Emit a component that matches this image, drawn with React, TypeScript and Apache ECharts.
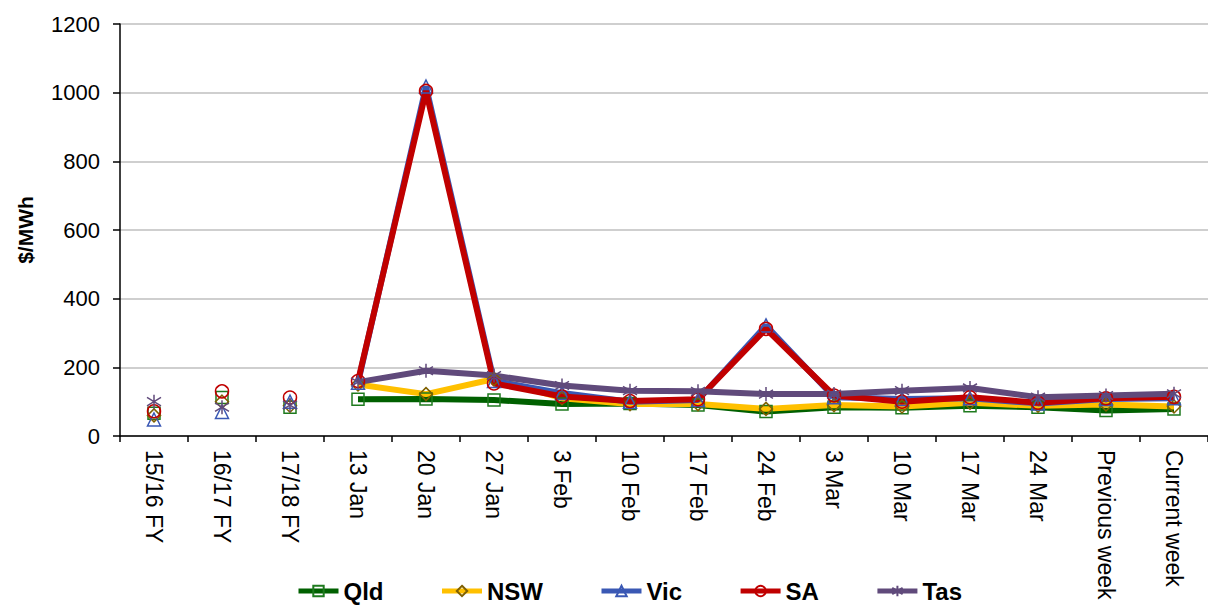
import React, { useEffect, useRef } from "react";
import * as echarts from "echarts";

const categories = [
  "15/16 FY", "16/17 FY", "17/18 FY", "13 Jan", "20 Jan", "27 Jan", "3 Feb", "10 Feb",
  "17 Feb", "24 Feb", "3 Mar", "10 Mar", "17 Mar", "24 Mar", "Previous week", "Current week",
];
const yTicks = { min: 0, max: 1200, interval: 200 };

const qld = [66, 112, 84, 107, 108, 105, 93, 95, 90, 71, 84, 82, 88, 84, 74, 79];
const nsw = [60, 100, 88, 150, 122, 166, 110, 93, 93, 79, 90, 86, 97, 88, 92, 86];
const vic = [48, 70, 100, 155, 1018, 160, 125, 100, 105, 322, 113, 108, 110, 95, 108, 110];
const sa = [72, 130, 112, 160, 1005, 153, 115, 102, 107, 312, 118, 100, 113, 97, 110, 114];
const tas = [100, 84, 90, 157, 190, 176, 147, 132, 130, 122, 122, 132, 140, 113, 118, 123];

const FY_COUNT = 3;

const STAR = "path://M5,0 L5,10 M0.7,2 L9.3,8 M9.3,2 L0.7,8";

type Def = { name: string; data: number[]; color: string; marker: string; border: string; size: number };
const defs: Def[] = [
  { name: "Qld", data: qld, color: "#006000", marker: "rect", border: "#1E7A1E", size: 12 },
  { name: "NSW", data: nsw, color: "#FFC000", marker: "diamond", border: "#7F6000", size: 13 },
  { name: "Vic", data: vic, color: "#3A58B4", marker: "triangle", border: "#3A58B4", size: 13 },
  { name: "SA", data: sa, color: "#C00000", marker: "circle", border: "#C00000", size: 13 },
  { name: "Tas", data: tas, color: "#604A7B", marker: STAR, border: "#604A7B", size: 14 },
];

export default function App() {
  const ref = useRef<HTMLDivElement>(null);
  useEffect(() => {
    if (!ref.current) return;
    const chart = echarts.init(ref.current, undefined, { renderer: "svg" });
    const font = "'Liberation Sans', Arial, sans-serif";
    const mainSeries = defs.map((d) => ({
      name: d.name,
      type: "line",
      data: d.data.map((v, i) => (i < FY_COUNT ? null : v)),
      symbol: d.marker,
      symbolSize: d.size,
      showSymbol: true,
      lineStyle: { color: d.color, width: 6 },
      itemStyle: { color: "transparent", borderColor: d.border, borderWidth: 1.5 },
      emphasis: { disabled: true },
    }));
    const fySeries = defs.map((d) => ({
      name: d.name + " FY",
      type: "line",
      data: d.data.map((v, i) => (i < FY_COUNT ? v : null)),
      symbol: d.marker,
      symbolSize: d.size,
      showSymbol: true,
      lineStyle: { opacity: 0, width: 0 },
      itemStyle: { color: "transparent", borderColor: d.border, borderWidth: 1.5 },
      emphasis: { disabled: true },
    }));
    chart.setOption({
      animation: false,
      textStyle: { fontFamily: font },
      grid: { left: 120, right: -11, top: 24, bottom: 170, containLabel: false },
      legend: {
        data: defs.map((d) => d.name),
        left: 291,
        top: 574,
        itemWidth: 40,
        itemHeight: 13,
        itemGap: 56,
        lineStyle: { width: 5 },
        textStyle: { fontSize: 24, fontWeight: "bold", color: "#000", fontFamily: font },
      },
      xAxis: {
        type: "category",
        data: categories,
        boundaryGap: true,
        axisLine: { lineStyle: { color: "#000", width: 1.5 } },
        axisTick: { show: true, interval: 0, length: 6, lineStyle: { color: "#000", width: 1.5 } },
        axisLabel: { interval: 0, rotate: -90, margin: 14, fontSize: 23, color: "#000", fontFamily: font },
        splitLine: { show: false },
      },
      yAxis: {
        type: "value",
        min: yTicks.min,
        max: yTicks.max,
        interval: yTicks.interval,
        name: "$/MWh",
        nameLocation: "middle",
        nameRotate: 90,
        nameGap: 84,
        nameTextStyle: { fontSize: 21, fontWeight: "bold", color: "#000", fontFamily: font },
        axisLine: { show: true, lineStyle: { color: "#000", width: 1.5 } },
        axisTick: { show: true, length: 7, lineStyle: { color: "#000", width: 1.5 } },
        axisLabel: {
          margin: 20,
          fontSize: 22,
          color: "#000",
          fontFamily: font,
          formatter: (v: number) => String(v),
        },
        splitLine: { show: true, lineStyle: { color: "#BFBFBF", width: 1.5 } },
      },
      series: [...mainSeries, ...fySeries],
    });
    return () => chart.dispose();
  }, []);
  return (
    <div
      ref={ref}
      style={{ position: "fixed", left: 0, top: 0, width: 1208, height: 606, background: "#fff" }}
    />
  );
}
